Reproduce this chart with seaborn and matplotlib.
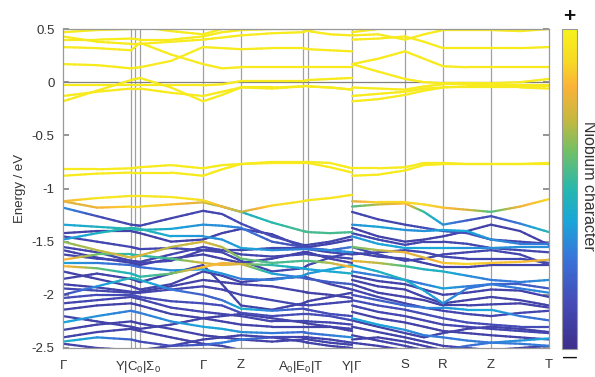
#!/usr/bin/env python3

import numpy as np
import matplotlib
matplotlib.use('Agg')
import matplotlib.pyplot as plt
from matplotlib.collections import LineCollection
from matplotlib.colors import LinearSegmentedColormap
import seaborn as sns

OUTPUT_FILE = 'out.png'

# k-path sample positions (path length units); the T | Y|Gamma jump is listed twice
k_pos = [0, 34, 68, 77, 108, 140, 159, 178, 209, 240, 245, 267, 289,
         289, 315, 342, 361, 380, 404, 428, 457, 486]

# high symmetry lines and labels
kpoint_lines = [68, 72, 77, 140, 178, 240, 245, 289, 342, 380, 428]
tick_pos = [0, 75, 140, 178, 238, 289, 342, 380, 428, 486]
tick_labels = [r'$\Gamma$', r'Y|C$_0$|$\Sigma_0$', r'$\Gamma$', 'Z', r'A$_0$|E$_0$|T',
               r'Y|$\Gamma$', 'S', 'R', 'Z', 'T']

y_ticks = [-2.5, -2, -1.5, -1, -0.5, 0, 0.5]
y_tick_labels = ['-2.5', '-2', '-1.5', '-1', '-0.5', '0', '0.5']

# conduction bands and the two flat bands near -0.8 eV (all Nb-like)
c1 = [-0.18, -0.08, 0.02, 0.04, -0.05, -0.18, -0.12, -0.05, -0.06, -0.04, -0.04, -0.05, -0.07,
      -0.18, -0.16, -0.12, -0.08, -0.05, -0.05, -0.05, -0.05, -0.06]
c2 = [-0.13, -0.09, -0.06, -0.06, -0.10, -0.13, -0.09, -0.05, -0.05, -0.04, -0.04, -0.05, -0.07,
      -0.13, -0.11, -0.09, -0.06, -0.05, -0.04, -0.04, -0.04, -0.04]
c3 = [-0.03, -0.03, -0.03, -0.03, -0.03, -0.03, -0.02, 0.01, 0.01, 0.01, 0.02, 0.03, 0.04,
      -0.05, -0.06, -0.07, -0.04, -0.02, -0.02, -0.03, -0.03, -0.03]
c4 = [0.17, 0.16, 0.13, 0.14, 0.20, 0.33, 0.32, 0.31, 0.32, 0.32, 0.31, 0.30, 0.29,
      0.17, 0.22, 0.29, 0.22, 0.15, 0.14, 0.14, 0.14, 0.14]
c5 = [0.33, 0.32, 0.30, 0.37, 0.26, 0.17, 0.13, 0.14, 0.14, 0.14, 0.14, 0.14, 0.14,
      0.17, 0.10, 0.03, 0.00, -0.01, -0.01, -0.01, 0.00, 0.03]
c6 = [0.40, 0.40, 0.41, 0.40, 0.40, 0.43, 0.47, 0.49, 0.50, 0.50, 0.48, 0.45, 0.44,
      0.40, 0.41, 0.43, 0.38, 0.32, 0.32, 0.32, 0.32, 0.33]
c7 = [0.43, 0.38, 0.36, 0.36, 0.38, 0.40, 0.42, 0.44, 0.46, 0.47, 0.49, 0.52, 0.55,
      0.44, 0.45, 0.40, 0.45, 0.49, 0.49, 0.49, 0.48, 0.50]
c8 = [0.47, 0.49, 0.50, 0.52, 0.48, 0.45, 0.50, 0.55, 0.60, 0.60, 0.60, 0.60, 0.60,
      0.47, 0.50, 0.52, 0.55, 0.55, 0.55, 0.55, 0.55, 0.55]
f1 = [-0.82, -0.82, -0.81, -0.80, -0.78, -0.81, -0.78, -0.77, -0.75, -0.75, -0.75, -0.76, -0.81,
      -0.81, -0.81, -0.80, -0.76, -0.76, -0.77, -0.77, -0.77, -0.76]
f2 = [-0.88, -0.86, -0.85, -0.85, -0.85, -0.88, -0.82, -0.77, -0.76, -0.76, -0.76, -0.80, -0.85,
      -0.88, -0.87, -0.83, -0.78, -0.77, -0.77, -0.77, -0.77, -0.77]
upper_bands = [c1, c2, c3, c4, c5, c6, c7, c8, f1, f2]
upper_char = 0.97

# valence bands: energies and Nb character (scalar = same along the path)
v1 = [-1.12, -1.09, -1.07, -1.07, -1.08, -1.11, -1.17, -1.22, -1.16, -1.12, -1.11, -1.09, -1.06,
      -1.12, -1.13, -1.13, -1.15, -1.18, -1.20, -1.22, -1.17, -1.10]
v1_c = [0.8, 0.95, 0.95, 0.95, 0.95, 0.92, 0.8, 0.7, 0.9, 0.95, 0.95, 0.95, 0.95,
        0.75, 0.9, 0.9, 0.9, 0.85, 0.75, 0.55, 0.8, 0.9]
v2 = [-1.12, -1.18, -1.17, -1.17, -1.15, -1.13, -1.17, -1.22, -1.32, -1.40, -1.41, -1.42, -1.41,
      -1.17, -1.15, -1.14, -1.22, -1.34, -1.30, -1.26, -1.33, -1.41]
v2_c = [0.75, 0.8, 0.9, 0.9, 0.85, 0.75, 0.6, 0.45, 0.5, 0.55, 0.55, 0.55, 0.55,
        0.55, 0.7, 0.85, 0.5, 0.35, 0.2, 0.15, 0.3, 0.5]
v3 = [-1.18, -1.26, -1.34, -1.35, -1.28, -1.21, -1.24, -1.33, -1.45, -1.53, -1.53, -1.50, -1.45,
      -1.22, -1.29, -1.34, -1.37, -1.40, -1.42, -1.48, -1.50, -1.52]
v3_c = [0.35, 0.15, 0.12, 0.12, 0.12, 0.12, 0.12, 0.15, 0.15, 0.12, 0.12, 0.12, 0.12,
        0.12, 0.12, 0.12, 0.15, 0.2, 0.15, 0.12, 0.12, 0.12]
v4 = [-1.34, -1.36, -1.38, -1.39, -1.38, -1.34, -1.35, -1.37, -1.50, -1.55, -1.56, -1.58, -1.55,
      -1.34, -1.36, -1.39, -1.40, -1.39, -1.40, -1.48, -1.52, -1.52]
v4_c = [0.4, 0.45, 0.5, 0.5, 0.4, 0.35, 0.35, 0.3, 0.2, 0.15, 0.15, 0.2, 0.3,
        0.35, 0.4, 0.35, 0.35, 0.4, 0.4, 0.35, 0.3, 0.3]
v5 = [-1.42, -1.40, -1.40, -1.42, -1.50, -1.48, -1.42, -1.38, -1.43, -1.55, -1.55, -1.52, -1.48,
      -1.37, -1.45, -1.50, -1.48, -1.45, -1.40, -1.34, -1.40, -1.53]
v6 = [-1.45, -1.50, -1.55, -1.57, -1.56, -1.58, -1.58, -1.58, -1.56, -1.56, -1.57, -1.60, -1.62,
      -1.42, -1.48, -1.53, -1.50, -1.50, -1.52, -1.56, -1.58, -1.60]
v7 = [-1.48, -1.42, -1.37, -1.38, -1.45, -1.45, -1.48, -1.56, -1.58, -1.57, -1.57, -1.58, -1.60,
      -1.45, -1.52, -1.56, -1.56, -1.56, -1.56, -1.56, -1.55, -1.55]
v7_c = [0.35, 0.45, 0.5, 0.5, 0.4, 0.35, 0.35, 0.4, 0.35, 0.3, 0.3, 0.35, 0.35,
        0.35, 0.4, 0.4, 0.4, 0.4, 0.35, 0.35, 0.35, 0.35]
v8 = [-1.50, -1.58, -1.65, -1.63, -1.55, -1.50, -1.55, -1.66, -1.70, -1.68, -1.68, -1.70, -1.74,
      -1.55, -1.58, -1.60, -1.65, -1.70, -1.71, -1.70, -1.69, -1.67]
v8_c = [0.65, 0.7, 0.75, 0.75, 0.7, 0.75, 0.7, 0.6, 0.55, 0.55, 0.55, 0.7, 0.85,
        0.6, 0.7, 0.8, 0.75, 0.85, 0.9, 0.85, 0.85, 0.75]
v9 = [-1.55, -1.60, -1.68, -1.70, -1.68, -1.58, -1.60, -1.68, -1.78, -1.75, -1.72, -1.65, -1.60,
      -1.55, -1.62, -1.68, -1.66, -1.62, -1.60, -1.58, -1.62, -1.72]
v10 = [-1.58, -1.65, -1.70, -1.72, -1.66, -1.62, -1.66, -1.70, -1.66, -1.60, -1.60, -1.66, -1.70,
       -1.60, -1.64, -1.66, -1.70, -1.74, -1.74, -1.72, -1.72, -1.72]
v11 = [-1.67, -1.62, -1.62, -1.63, -1.66, -1.70, -1.72, -1.71, -1.72, -1.75, -1.76, -1.78, -1.80,
       -1.68, -1.70, -1.73, -1.76, -1.78, -1.82, -1.86, -1.88, -1.86]
v11_c = [0.85, 0.6, 0.5, 0.5, 0.55, 0.75, 0.8, 0.7, 0.5, 0.4, 0.4, 0.4, 0.45,
         0.8, 0.7, 0.55, 0.45, 0.45, 0.35, 0.3, 0.3, 0.35]
v12 = [-1.70, -1.70, -1.72, -1.74, -1.77, -1.76, -1.80, -1.85, -1.86, -1.82, -1.80, -1.76, -1.72,
       -1.72, -1.78, -1.86, -1.96, -2.08, -1.94, -1.90, -1.90, -1.94]
v12_c = [0.4, 0.3, 0.25, 0.25, 0.35, 0.4, 0.35, 0.3, 0.3, 0.35, 0.35, 0.4, 0.45,
         0.4, 0.45, 0.45, 0.4, 0.35, 0.3, 0.25, 0.2, 0.2]
v13 = [-1.73, -1.75, -1.80, -1.83, -1.80, -1.74, -1.70, -1.71, -1.80, -1.84, -1.85, -1.88, -1.90,
       -1.78, -1.82, -1.86, -1.90, -1.94, -1.92, -1.90, -1.94, -1.98]
v13_c = [0.85, 0.6, 0.45, 0.5, 0.6, 0.85, 0.8, 0.75, 0.4, 0.2, 0.2, 0.2, 0.2,
         0.3, 0.3, 0.3, 0.3, 0.4, 0.3, 0.3, 0.3, 0.35]
v14 = [-1.78, -1.85, -1.92, -1.95, -1.90, -1.78, -1.82, -1.88, -1.85, -1.83, -1.84, -1.90, -1.95,
       -1.82, -1.87, -1.90, -1.95, -2.00, -1.98, -1.95, -1.96, -2.02]
v15 = [-1.85, -1.80, -1.85, -1.88, -1.80, -1.72, -1.90, -2.10, -2.14, -2.08, -2.06, -2.02, -1.98,
       -1.86, -1.92, -1.95, -2.02, -2.08, -2.05, -2.02, -2.05, -2.10]
v16 = [-1.90, -1.93, -1.97, -1.97, -1.92, -1.86, -1.88, -1.90, -1.92, -1.97, -1.98, -2.00, -2.03,
       -1.90, -1.98, -2.02, -2.05, -2.10, -2.10, -2.09, -2.08, -2.12]
v17 = [-1.94, -1.96, -1.98, -1.98, -1.95, -1.92, -1.95, -2.00, -2.05, -2.10, -2.10, -2.08, -2.06,
       -1.95, -2.02, -2.08, -2.12, -2.15, -2.18, -2.20, -2.17, -2.15]
v18 = [-2.00, -1.92, -1.84, -1.86, -1.95, -2.00, -2.05, -2.13, -2.15, -2.13, -2.14, -2.18, -2.20,
       -2.00, -2.05, -2.10, -2.12, -2.12, -2.14, -2.14, -2.20, -2.24]
v18_c = [0.12, 0.35, 0.5, 0.45, 0.3, 0.2, 0.25, 0.45, 0.3, 0.15, 0.15, 0.15, 0.15,
         0.15, 0.2, 0.25, 0.3, 0.35, 0.4, 0.4, 0.3, 0.25]
v19 = [-2.03, -2.00, -2.00, -2.02, -2.06, -2.08, -2.10, -2.17, -2.20, -2.18, -2.18, -2.20, -2.24,
       -2.05, -2.10, -2.14, -2.18, -2.22, -2.26, -2.28, -2.30, -2.30]
v20 = [-2.08, -2.05, -2.02, -2.04, -2.12, -2.16, -2.18, -2.20, -2.25, -2.25, -2.25, -2.26, -2.28,
       -2.10, -2.16, -2.20, -2.24, -2.28, -2.30, -2.32, -2.34, -2.36]
v21 = [-2.14, -2.10, -2.08, -2.10, -2.18, -2.22, -2.25, -2.28, -2.30, -2.30, -2.30, -2.30, -2.32,
       -2.16, -2.22, -2.26, -2.30, -2.34, -2.36, -2.38, -2.40, -2.42]
v22 = [-2.26, -2.20, -2.15, -2.17, -2.25, -2.30, -2.32, -2.35, -2.36, -2.35, -2.36, -2.38, -2.40,
       -2.22, -2.28, -2.33, -2.38, -2.40, -2.43, -2.45, -2.46, -2.48]
v22_c = [0.4, 0.35, 0.3, 0.3, 0.35, 0.4, 0.4, 0.35, 0.3, 0.25, 0.25, 0.3, 0.35,
         0.4, 0.4, 0.35, 0.3, 0.3, 0.3, 0.3, 0.3, 0.3]
v23 = [-2.33, -2.28, -2.25, -2.27, -2.32, -2.38, -2.40, -2.42, -2.44, -2.42, -2.42, -2.45, -2.47,
       -2.30, -2.35, -2.40, -2.44, -2.48, -2.50, -2.52, -2.55, -2.55]
v24 = [-2.40, -2.35, -2.32, -2.34, -2.40, -2.46, -2.48, -2.52, -2.55, -2.55, -2.55, -2.55, -2.55,
       -2.38, -2.43, -2.48, -2.52, -2.55, -2.55, -2.55, -2.55, -2.55]
v25 = [-2.44, -2.40, -2.42, -2.44, -2.48, -2.47, -2.45, -2.42, -2.40, -2.40, -2.40, -2.42, -2.45,
       -2.45, -2.48, -2.52, -2.55, -2.52, -2.48, -2.45, -2.43, -2.41]
v25_c = [0.45, 0.35, 0.2, 0.15, 0.15, 0.2, 0.3, 0.3, 0.15, 0.1, 0.1, 0.1, 0.1,
         0.1, 0.1, 0.1, 0.1, 0.15, 0.25, 0.3, 0.35, 0.4]
v26 = [-2.46, -2.50, -2.52, -2.52, -2.48, -2.42, -2.40, -2.38, -2.40, -2.44, -2.45, -2.48, -2.50,
       -2.42, -2.40, -2.44, -2.48, -2.52, -2.55, -2.52, -2.50, -2.48]
v27 = [-1.62, -1.66, -1.68, -1.69, -1.62, -1.55, -1.58, -1.62, -1.64, -1.62, -1.62, -1.64, -1.66,
       -1.62, -1.60, -1.58, -1.60, -1.64, -1.66, -1.66, -1.66, -1.70]
v28 = [-2.20, -2.25, -2.30, -2.32, -2.28, -2.22, -2.20, -2.18, -2.22, -2.26, -2.27, -2.30, -2.34,
       -2.24, -2.30, -2.36, -2.40, -2.36, -2.32, -2.30, -2.32, -2.35]

valence_bands = [
    (v1, v1_c), (v2, v2_c), (v3, v3_c), (v4, v4_c), (v5, 0.1), (v6, 0.12), (v7, v7_c),
    (v8, v8_c), (v9, 0.12), (v10, 0.1), (v11, v11_c), (v12, v12_c), (v13, v13_c),
    (v14, 0.1), (v15, 0.1), (v16, 0.1), (v17, 0.12), (v18, v18_c), (v19, 0.15),
    (v20, 0.12), (v21, 0.1), (v22, v22_c), (v23, 0.1), (v24, 0.1), (v25, v25_c),
    (v26, 0.1), (v27, 0.12), (v28, 0.1),
]

# parula-like colour scale as it appears in the figure
cmap_pos = [0.0, 0.15, 0.28, 0.40, 0.50, 0.62, 0.72, 0.82, 0.90, 1.0]
cmap_rgb = [(0.24, 0.18, 0.55), (0.27, 0.30, 0.72), (0.22, 0.45, 0.85), (0.10, 0.65, 0.85),
            (0.15, 0.72, 0.68), (0.45, 0.75, 0.40), (0.78, 0.72, 0.25), (0.98, 0.70, 0.22),
            (0.97, 0.85, 0.15), (0.97, 0.95, 0.10)]


def band_segments(energies, char, n_sub=6):
    """Split a band into short straight pieces so the colour can change along it"""
    k = np.asarray(k_pos, dtype=float)
    e = np.asarray(energies, dtype=float)
    c = np.full(len(k), char, dtype=float) if np.isscalar(char) else np.asarray(char, dtype=float)
    segs, cols = [], []
    for i in range(len(k) - 1):
        if k[i] == k[i + 1]:
            continue  # jump between path pieces
        t = np.linspace(0, 1, n_sub + 1)
        xs = k[i] + t * (k[i + 1] - k[i])
        ys = e[i] + t * (e[i + 1] - e[i])
        cs = c[i] + t * (c[i + 1] - c[i])
        for j in range(n_sub):
            segs.append([(xs[j], ys[j]), (xs[j + 1], ys[j + 1])])
            cols.append(0.5 * (cs[j] + cs[j + 1]))
    return segs, cols


def main():
    sns.set_theme(style='white')
    plt.rcParams['font.family'] = ['Liberation Sans', 'DejaVu Sans']
    plt.rcParams['mathtext.fontset'] = 'stix'
    plt.rcParams['mathtext.default'] = 'regular'

    cmap = LinearSegmentedColormap.from_list('nb_char', list(zip(cmap_pos, cmap_rgb)))

    fig = plt.figure(figsize=(5.95, 3.77), dpi=100)
    ax = fig.add_axes([63 / 595, 1 - 348 / 377, 486 / 595, 319 / 377])

    # high symmetry lines and Fermi level
    for x in kpoint_lines:
        ax.axvline(x, color='#a0a0a0', lw=0.9, zorder=1)
    ax.axhline(0, color='#808080', lw=0.9, zorder=1)

    all_segs, all_cols = [], []
    for band in upper_bands:
        s, c = band_segments(band, upper_char)
        all_segs += s
        all_cols += c
    for band, char in valence_bands:
        s, c = band_segments(band, char)
        all_segs += s
        all_cols += c

    # bright (Nb-rich) pieces on top
    order = np.argsort(all_cols, kind='stable')
    segs = [all_segs[i] for i in order]
    cols = np.asarray(all_cols)[order]
    lc = LineCollection(segs, cmap=cmap, norm=plt.Normalize(0, 1), linewidths=1.6,
                        capstyle='round', zorder=2)
    lc.set_array(cols)
    ax.add_collection(lc)

    ax.set_xlim(0, 486)
    ax.set_ylim(-2.5, 0.5)
    ax.set_yticks(y_ticks)
    ax.set_yticklabels(y_tick_labels, fontsize=9.5, color='#333333')
    ax.set_xticks(tick_pos)
    ax.set_xticklabels(tick_labels, fontsize=9.5, color='#333333')
    ax.tick_params(axis='x', length=0, pad=8)
    ax.tick_params(axis='y', direction='in', length=4, color='#888888', right=True, left=True, pad=6)
    for sp in ax.spines.values():
        sp.set_color('#999999')
        sp.set_linewidth(0.9)
    ax.set_ylabel('Energy / eV', fontsize=9.5, color='#333333', labelpad=4)

    # colour bar
    cax = fig.add_axes([562 / 595, 1 - 349 / 377, 15 / 595, 320 / 377])
    sm = plt.cm.ScalarMappable(cmap=cmap, norm=plt.Normalize(0, 1))
    cb = fig.colorbar(sm, cax=cax)
    cb.set_ticks([i / 7 for i in range(1, 7)])
    cb.ax.tick_params(direction='in', length=3, color='#666666', labelright=False, right=True)
    cb.outline.set_edgecolor('#999999')
    cb.outline.set_linewidth(0.8)
    fig.text(569.5 / 595, 1 - 17 / 377, '+', ha='center', va='center', fontsize=15,
             fontweight='bold', color='#111111')
    fig.text(569.5 / 595, 1 - 358 / 377, '\u2014', ha='center', va='center', fontsize=10,
             fontweight='bold', color='#111111')
    fig.text(589 / 595, 1 - 186 / 377, 'Niobium character', rotation=270, ha='center',
             va='center', fontsize=11.5, color='#333333')

    fig.savefig(OUTPUT_FILE, dpi=100)
    plt.close(fig)


if __name__ == "__main__":
    main()
